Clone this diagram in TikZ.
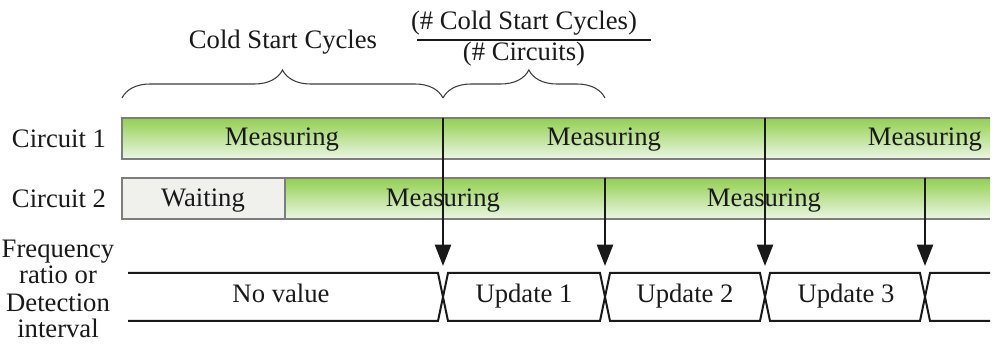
\documentclass[tikz,border=0pt]{standalone}
\usepackage{fontspec}
\setmainfont{Liberation Serif}
\usetikzlibrary{arrows.meta,decorations.pathreplacing}
\definecolor{gtop}{RGB}{146,208,80}
\definecolor{gbot}{RGB}{236,246,230}
\definecolor{edge}{RGB}{125,125,125}
\definecolor{waitfill}{RGB}{240,240,237}
\definecolor{ink}{RGB}{25,25,25}
\begin{document}
\begin{tikzpicture}[x=0.75pt,y=-0.75pt,
  font=\fontsize{20}{20.25}\selectfont,
  meas/.style={top color=gtop,bottom color=gbot,draw=none},
  waitbox/.style={fill=waitfill,draw=none},
  barline/.style={draw=edge,line width=1.3pt},
  lbl/.style={inner sep=0pt,anchor=base,text=ink},
  flow/.style={draw=ink,line width=1.7pt,-{Triangle[length=16pt,width=12pt]}},
  bus/.style={draw=ink,line width=1.5pt,line join=miter},
  bracestyle/.style={draw=ink!85,line width=0.8pt,decorate,decoration={brace,amplitude=21pt,aspect=#1}},
  bracestyle/.default=0.5
]
\useasboundingbox (0,0) rectangle (997,349);

% --- bars
\path[meas] (122,118) rectangle (990,159);
\draw[barline] (990,118) -- (122,118) -- (122,159) -- (990,159);
\path[waitbox] (122,178) rectangle (285,219);
\path[meas] (285,178) rectangle (990,219);
\draw[barline] (990,178) -- (122,178) -- (122,219) -- (990,219);
\draw[barline] (285,178) -- (285,219);

% --- left labels
\node[lbl] (c1) at (59,148) {Circuit 1};
\node[lbl] (c2) at (59,208) {Circuit 2};
\node[lbl,align=center] (fr) at (58,338) {Frequency\\ratio or\\Detection\\interval};

% --- segment labels
\node[lbl] (m11) at (282,146) {Measuring};
\node[lbl] (m12) at (604,146) {Measuring};
\node[lbl] (m13) at (925,146) {Measuring};
\node[lbl] (w21) at (203,207) {Waiting};
\node[lbl] (m21) at (443,207) {Measuring};
\node[lbl] (m22) at (764,207) {Measuring};

% --- bus
\draw[bus] (128,273) -- (438,273) -- (448,321) -- (600,321) -- (610,273) -- (760,273) -- (770,321) -- (920,321) -- (930,273) -- (990,273);
\draw[bus] (128,321) -- (438,321) -- (448,273) -- (600,273) -- (610,321) -- (760,321) -- (770,273) -- (920,273) -- (930,321) -- (990,321);
\node[lbl] (nv) at (281,303) {No value};
\node[lbl] (u1) at (524,303) {Update 1};
\node[lbl] (u2) at (685,303) {Update 2};
\node[lbl] (u3) at (846,303) {Update 3};

% --- arrows
\coordinate (a1) at (443,118); \coordinate (t1) at (443,266);
\coordinate (a2) at (605,178); \coordinate (t2) at (605,266);
\coordinate (a3) at (765,118); \coordinate (t3) at (765,266);
\coordinate (a4) at (925,178); \coordinate (t4) at (925,266);
\draw[flow] (a1) -- (t1);
\draw[flow] (a2) -- (t2);
\draw[flow] (a3) -- (t3);
\draw[flow] (a4) -- (t4);

% --- braces
\coordinate (b0) at (122,98); \coordinate (b1) at (443,98); \coordinate (b2) at (605,98);
\draw[bracestyle] (b0) -- (b1);
\draw[bracestyle=0.53] (b1) -- (b2);
\node[lbl] (cs) at (283,49) {Cold Start Cycles};

% --- fraction
\node[lbl] (num) at (524,30) {(\# Cold Start Cycles)};
\node[lbl] (den) at (524,61) {(\# Circuits)};
\coordinate (f0) at (417,40); \coordinate (f1) at (651,40);
\draw[ink,line width=1.5pt] (f0) -- (f1);
\end{tikzpicture}
\end{document}
